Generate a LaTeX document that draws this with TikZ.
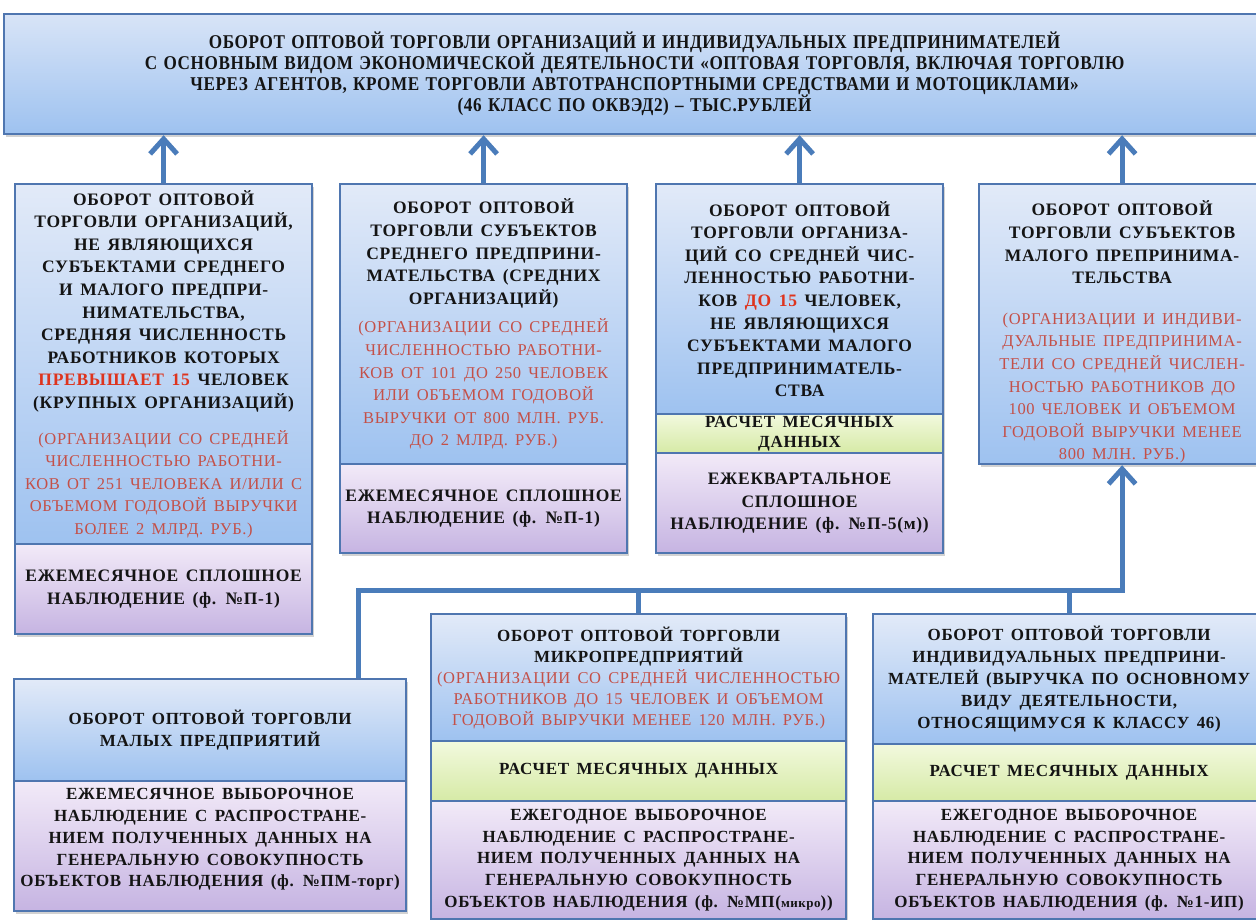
\documentclass[tikz,border=0pt]{standalone}
\usepackage{fontspec}
\setmainfont{Liberation Serif}[LetterSpace=4,WordSpace=1.5]
\newfontfamily\titlefont{Liberation Serif}[FakeStretch=0.88,LetterSpace=3,WordSpace=1.3]
\usetikzlibrary{arrows.meta,shadows,calc}
\definecolor{lc}{RGB}{74,124,186}
\definecolor{bord}{RGB}{79,118,176}
\definecolor{blA}{RGB}{226,234,248}
\definecolor{blB}{RGB}{158,194,240}
\definecolor{puA}{RGB}{242,234,248}
\definecolor{puB}{RGB}{198,180,226}
\definecolor{grA}{RGB}{242,249,222}
\definecolor{grB}{RGB}{214,234,166}
\definecolor{redt}{RGB}{196,80,72}
\definecolor{redb}{RGB}{222,52,30}
\definecolor{txt}{RGB}{20,20,20}
\newcommand\rd[1]{\textcolor{redt}{\mdseries\fontsize{16.5}{22.6}\selectfont #1}}
\newcommand\rb[1]{\textcolor{redb}{#1}}
\tikzset{
  part/.style={draw=bord, line width=2.2pt, anchor=north west, align=center, inner sep=0pt,
    text=txt, drop shadow={shadow xshift=1.5pt, shadow yshift=-2.5pt, opacity=0.35}},
  bluebox/.style={part, top color=blA, bottom color=blB},
  purplebox/.style={part, top color=puA, bottom color=puB},
  greenbox/.style={part, top color=grA, bottom color=grB},
  bigf/.style={font=\fontsize{17.5}{22.6}\selectfont\bfseries},
  lowf/.style={font=\fontsize{17}{21.8}\selectfont\bfseries},
  conn/.style={draw=lc, line width=5pt},
  uparrow/.style={conn, -{Straight Barb[length=15pt,width=27pt]}}
}
\begin{document}
\begin{tikzpicture}[x=1pt,y=-1pt]
\useasboundingbox (0,0) rectangle (1256,919);
\clip (0,0) rectangle (1256,919);
\fill[white] (0,0) rectangle (1256,919);

% top box
\node[bluebox, minimum width=1261, minimum height=120, top color=blA!85!blB,
  font=\titlefont\fontsize{19.5}{21}\selectfont\bfseries] (T) at (3,13)
 {ОБОРОТ ОПТОВОЙ ТОРГОВЛИ ОРГАНИЗАЦИЙ И ИНДИВИДУАЛЬНЫХ ПРЕДПРИНИМАТЕЛЕЙ\\
  С ОСНОВНЫМ ВИДОМ ЭКОНОМИЧЕСКОЙ ДЕЯТЕЛЬНОСТИ «ОПТОВАЯ ТОРГОВЛЯ, ВКЛЮЧАЯ ТОРГОВЛЮ\\
  ЧЕРЕЗ АГЕНТОВ, КРОМЕ ТОРГОВЛИ АВТОТРАНСПОРТНЫМИ СРЕДСТВАМИ И МОТОЦИКЛАМИ»\\
  (46 КЛАСС ПО ОКВЭД2) – ТЫС.РУБЛЕЙ};

% box A
\node[bluebox, bigf, minimum width=297, minimum height=360] (A) at (14,183)
 {ОБОРОТ ОПТОВОЙ\\ ТОРГОВЛИ ОРГАНИЗАЦИЙ,\\ НЕ ЯВЛЯЮЩИХСЯ\\ СУБЪЕКТАМИ СРЕДНЕГО\\
  И МАЛОГО ПРЕДПРИ-\\ НИМАТЕЛЬСТВА,\\ СРЕДНЯЯ ЧИСЛЕННОСТЬ\\ РАБОТНИКОВ КОТОРЫХ\\
  \rb{ПРЕВЫШАЕТ 15} ЧЕЛОВЕК\\ (КРУПНЫХ ОРГАНИЗАЦИЙ)\\[13pt]
  \rd{(ОРГАНИЗАЦИИ СО СРЕДНЕЙ}\\ \rd{ЧИСЛЕННОСТЬЮ РАБОТНИ-}\\ \rd{КОВ ОТ 251 ЧЕЛОВЕКА И/ИЛИ С}\\
  \rd{ОБЪЕМОМ ГОДОВОЙ ВЫРУЧКИ}\\ \rd{БОЛЕЕ 2 МЛРД. РУБ.)}};
\node[purplebox, bigf, minimum width=297, minimum height=90] (A2) at (14,543)
 {ЕЖЕМЕСЯЧНОЕ СПЛОШНОЕ\\ НАБЛЮДЕНИЕ (ф. №П-1)};

% box B
\node[bluebox, bigf, minimum width=287, minimum height=280] (B) at (339,183)
 {ОБОРОТ ОПТОВОЙ\\ ТОРГОВЛИ СУБЪЕКТОВ\\ СРЕДНЕГО ПРЕДПРИНИ-\\ МАТЕЛЬСТВА (СРЕДНИХ\\ ОРГАНИЗАЦИЙ)\\[6pt]
  \rd{(ОРГАНИЗАЦИИ СО СРЕДНЕЙ}\\ \rd{ЧИСЛЕННОСТЬЮ РАБОТНИ-}\\ \rd{КОВ ОТ 101 ДО 250 ЧЕЛОВЕК}\\
  \rd{ИЛИ ОБЪЕМОМ ГОДОВОЙ}\\ \rd{ВЫРУЧКИ ОТ 800 МЛН. РУБ.}\\ \rd{ДО 2 МЛРД. РУБ.)}};
\node[purplebox, bigf, minimum width=287, minimum height=89] (B2) at (339,463)
 {ЕЖЕМЕСЯЧНОЕ СПЛОШНОЕ\\ НАБЛЮДЕНИЕ (ф. №П-1)};

% box C
\node[bluebox, bigf, minimum width=287, minimum height=230] (C) at (655,183)
 {ОБОРОТ ОПТОВОЙ\\ ТОРГОВЛИ ОРГАНИЗА-\\ ЦИЙ СО СРЕДНЕЙ ЧИС-\\ ЛЕННОСТЬЮ РАБОТНИ-\\
  КОВ \rb{ДО 15} ЧЕЛОВЕК,\\ НЕ ЯВЛЯЮЩИХСЯ\\ СУБЪЕКТАМИ МАЛОГО\\ ПРЕДПРИНИМАТЕЛЬ-\\ СТВА};
\node[greenbox, font=\fontsize{17}{20}\selectfont\bfseries, minimum width=287, minimum height=39] (C2) at (655,413)
 {РАСЧЕТ МЕСЯЧНЫХ\\ ДАННЫХ};
\node[purplebox, bigf, minimum width=287, minimum height=100] (C3) at (655,452)
 {ЕЖЕКВАРТАЛЬНОЕ\\ СПЛОШНОЕ\\ НАБЛЮДЕНИЕ (ф. №П-5(м))};

% box D
\node[bluebox, bigf, minimum width=286, minimum height=280] (D) at (978,183)
 {\rule{0pt}{31pt}ОБОРОТ ОПТОВОЙ\\ ТОРГОВЛИ СУБЪЕКТОВ\\ МАЛОГО ПРЕПРИНИМА-\\ ТЕЛЬСТВА\\[18pt]
  \rd{(ОРГАНИЗАЦИИ И ИНДИВИ-}\\ \rd{ДУАЛЬНЫЕ ПРЕДПРИНИМА-}\\ \rd{ТЕЛИ СО СРЕДНЕЙ ЧИСЛЕН-}\\
  \rd{НОСТЬЮ РАБОТНИКОВ ДО}\\ \rd{100 ЧЕЛОВЕК И ОБЪЕМОМ}\\ \rd{ГОДОВОЙ ВЫРУЧКИ МЕНЕЕ}\\ \rd{800 МЛН. РУБ.)}};

% box E
\node[bluebox, lowf, minimum width=392, minimum height=102] (E) at (13,678)
 {ОБОРОТ ОПТОВОЙ ТОРГОВЛИ\\ МАЛЫХ ПРЕДПРИЯТИЙ};
\node[purplebox, lowf, minimum width=392, minimum height=130] (E2) at (13,780)
 {ЕЖЕМЕСЯЧНОЕ ВЫБОРОЧНОЕ\\ НАБЛЮДЕНИЕ С РАСПРОСТРАНЕ-\\ НИЕМ ПОЛУЧЕННЫХ ДАННЫХ НА\\
  ГЕНЕРАЛЬНУЮ СОВОКУПНОСТЬ\\ ОБЪЕКТОВ НАБЛЮДЕНИЯ (ф. №ПМ-торг)\rule[-17pt]{0pt}{17pt}};

% box F
\node[bluebox, font=\fontsize{17}{21}\selectfont\bfseries, minimum width=415, minimum height=127] (F) at (430,613)
 {ОБОРОТ ОПТОВОЙ ТОРГОВЛИ\\ МИКРОПРЕДПРИЯТИЙ\\
  \rd{(ОРГАНИЗАЦИИ СО СРЕДНЕЙ ЧИСЛЕННОСТЬЮ}\\ \rd{РАБОТНИКОВ ДО 15 ЧЕЛОВЕК И ОБЪЕМОМ}\\
  \rd{ГОДОВОЙ ВЫРУЧКИ МЕНЕЕ 120 МЛН. РУБ.)}};
\node[greenbox, lowf, minimum width=415, minimum height=60] (F2) at (430,740)
 {РАСЧЕТ МЕСЯЧНЫХ ДАННЫХ};
\node[purplebox, lowf, minimum width=415, minimum height=118] (F3) at (430,800)
 {ЕЖЕГОДНОЕ ВЫБОРОЧНОЕ\\ НАБЛЮДЕНИЕ С РАСПРОСТРАНЕ-\\ НИЕМ ПОЛУЧЕННЫХ ДАННЫХ НА\\
  ГЕНЕРАЛЬНУЮ СОВОКУПНОСТЬ\\ ОБЪЕКТОВ НАБЛЮДЕНИЯ (ф. №МП({\fontsize{13}{12}\selectfont микро}))};

% box G
\node[bluebox, lowf, minimum width=392, minimum height=130] (G) at (872,613)
 {ОБОРОТ ОПТОВОЙ ТОРГОВЛИ\\ ИНДИВИДУАЛЬНЫХ ПРЕДПРИНИ-\\ МАТЕЛЕЙ (ВЫРУЧКА ПО ОСНОВНОМУ\\
  ВИДУ ДЕЯТЕЛЬНОСТИ,\\ ОТНОСЯЩИМУСЯ К КЛАССУ 46)};
\node[greenbox, lowf, minimum width=392, minimum height=57] (G2) at (872,743)
 {РАСЧЕТ МЕСЯЧНЫХ ДАННЫХ};
\node[purplebox, lowf, minimum width=392, minimum height=118] (G3) at (872,800)
 {ЕЖЕГОДНОЕ ВЫБОРОЧНОЕ\\ НАБЛЮДЕНИЕ С РАСПРОСТРАНЕ-\\ НИЕМ ПОЛУЧЕННЫХ ДАННЫХ НА\\
  ГЕНЕРАЛЬНУЮ СОВОКУПНОСТЬ\\ ОБЪЕКТОВ НАБЛЮДЕНИЯ (ф. №1-ИП)};

% connectors
\foreach \n in {A,B,C,D}
  \draw[uparrow] (\n.north) -- (\n.north |- T.south);
\coordinate (bus) at (0,590);
\coordinate (ex) at (358,0);
\draw[uparrow, line join=miter] (E.north -| ex) |- (bus -| D.south) -- (D.south);
\draw[conn] (F.north) -- (F.north |- bus);
\draw[conn] (G.north) -- (G.north |- bus);
\end{tikzpicture}
\end{document}
